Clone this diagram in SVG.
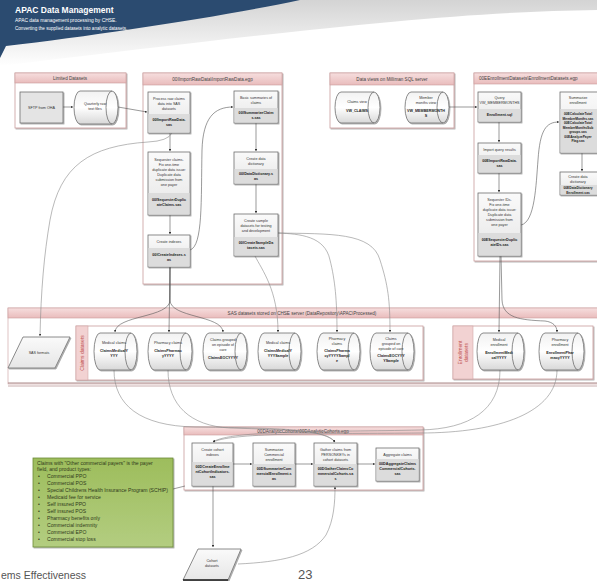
<svg xmlns="http://www.w3.org/2000/svg" width="597" height="581" viewBox="0 0 597 581">
<defs>
<linearGradient id="pink" x1="0" y1="0" x2="0" y2="1"><stop offset="0" stop-color="#f6dede"/><stop offset="1" stop-color="#e9bcbc"/></linearGradient>
<linearGradient id="ng" x1="0" y1="0" x2="0" y2="1"><stop offset="0" stop-color="#fafafa"/><stop offset="1" stop-color="#e6e6e6"/></linearGradient>
<linearGradient id="cyl" x1="0" y1="0" x2="0" y2="1"><stop offset="0" stop-color="#f2f2f2"/><stop offset="0.5" stop-color="#ffffff"/><stop offset="1" stop-color="#d8d8d8"/></linearGradient>
<linearGradient id="green" x1="0" y1="0" x2="0" y2="1"><stop offset="0" stop-color="#9dbd5c"/><stop offset="1" stop-color="#b3cd80"/></linearGradient>
<linearGradient id="swoosh" x1="0" y1="0" x2="0" y2="1"><stop offset="0" stop-color="#c9c9c9"/><stop offset="1" stop-color="#ffffff"/></linearGradient>
<filter id="sh" x="-10%" y="-10%" width="130%" height="130%"><feDropShadow dx="1" dy="1" stdDeviation="0.6" flood-color="#000" flood-opacity="0.35"/></filter>
<marker id="ar" viewBox="0 0 6 6" refX="5.5" refY="3" markerWidth="4" markerHeight="4" orient="auto"><path d="M0,0 L6,3 L0,6 Z" fill="#333"/></marker>
</defs>
<style>
text{font-family:"Liberation Sans","DejaVu Sans",sans-serif}
.frame{fill:#fff;stroke:#c99c9c;stroke-width:.8}
.head{fill:url(#pink);stroke:#c99c9c;stroke-width:.6}
.ht{font-size:4.6px;fill:#444;text-anchor:middle}
.node{fill:url(#ng);stroke:#6e6e6e;stroke-width:.8}
.low{fill:#dcdcdc}
.cy{fill:url(#cyl);stroke:#6e6e6e;stroke-width:.8}
.cap{fill:none;stroke:#6e6e6e;stroke-width:.8}
.nt{font-size:3.7px;fill:#333;text-anchor:middle}
.nb{font-size:3.7px;fill:#222;font-weight:bold;text-anchor:middle}
.ns{font-size:3.3px;fill:#222;font-weight:bold;text-anchor:middle}
.c{fill:none;stroke:#555;stroke-width:.6}
.ca{fill:none;stroke:#555;stroke-width:.6;marker-end:url(#ar)}
.cla{fill:none;stroke:#8a8a8a;stroke-width:.6;marker-end:url(#ar)}
.gt{font-size:5.1px;fill:#2f3a1a}
</style>
<rect x="0" y="0" width="597" height="581" fill="#fff"/>
<g id="header">
<path d="M0,0 H597 V10 C450,12 300,30 0,66 Z" fill="url(#swoosh)" opacity="0.8"/>
<path d="M0,0 H300 C230,15 100,35 6,46 L0,58 Z" fill="#2b4b70"/>
<text x="15" y="13" font-size="8.5" fill="#fff" font-weight="bold">APAC Data Management</text>
<text x="15" y="22" font-size="4.9" fill="#fff">APAC data management processing by CHSE.</text>
<text x="15" y="30" font-size="4.6" fill="#fff">Converting the supplied datasets into analytic datasets.</text>
</g>

<g id="grp-limited">
<rect class="frame" x="15" y="73" width="111" height="55" filter="url(#sh)"/>
<rect class="head" x="15" y="73" width="111" height="10"/>
<text class="ht" x="70" y="80">Limited Datasets</text>
</g>
<g id="grp-import">
<rect class="frame" x="143" y="73" width="139" height="211" filter="url(#sh)"/>
<rect class="head" x="143" y="73" width="139" height="12"/>
<text class="ht" x="212.5" y="81">00IImportRawData\ImportRawData.egp</text>
</g>
<g id="grp-views">
<rect class="frame" x="330" y="73" width="124" height="55" filter="url(#sh)"/>
<rect class="head" x="330" y="73" width="124" height="12"/>
<text class="ht" x="392" y="81">Data views on Milliman SQL server</text>
</g>
<g id="grp-enroll">
<rect class="frame" x="474" y="73" width="130" height="188" filter="url(#sh)"/>
<rect class="head" x="474" y="73" width="130" height="11"/>
<text class="ht" x="479" y="80" style="text-anchor:start">00EEnrollmentDatasets\EnrollmentDatasets.egp</text>
</g>
<g id="grp-sas">
<rect x="8" y="308" width="595" height="76" fill="#fff" stroke="#c99c9c" stroke-width=".6"/>
<rect class="head" x="8" y="308" width="595" height="10"/>
<text class="ht" x="302" y="315">SAS datasets stored on CHSE server (DataRepository\APAC\Processed)</text>
<line x1="8" y1="383" x2="597" y2="383" stroke="#a88" stroke-width="1"/>
<line x1="8" y1="386" x2="597" y2="386" stroke="#b99" stroke-width=".8"/>
</g>
<g id="grp-claims">
<rect class="frame" x="76" y="326" width="347" height="54" stroke="#b08080" filter="url(#sh)"/>
<rect x="76" y="326" width="12" height="54" fill="#f2d2d2" stroke="#c99c9c" stroke-width=".5"/>
<text transform="translate(84,353) rotate(-90)" font-size="5" fill="#c0504d" text-anchor="middle">Claims datasets</text>
</g>
<g id="grp-enrollds">
<rect class="frame" x="453" y="326" width="140" height="53" stroke="#b08080" filter="url(#sh)"/>
<rect x="453" y="326" width="20" height="53" fill="#f2d2d2" stroke="#c99c9c" stroke-width=".5"/>
<text transform="translate(462,352.5) rotate(-90)" font-size="5" fill="#c0504d" text-anchor="middle">Enrollment</text>
<text transform="translate(468,352.5) rotate(-90)" font-size="5" fill="#c0504d" text-anchor="middle">datasets</text>
</g>
<g id="grp-cohorts">
<rect class="frame" x="184" y="427" width="239" height="63" filter="url(#sh)"/>
<rect class="head" x="184" y="427" width="239" height="8"/>
<text class="ht" x="303" y="433">00DAnalyticCohorts\00DAnalyticCohorts.egp</text>
</g>

<g id="connectors">
<path class="ca" d="M63,107 L73,107"/>
<path class="ca" d="M118,107 L147,112"/>
<path class="ca" d="M170,133 L170,151"/>
<path class="ca" d="M170,215 L170,234"/>
<path class="ca" d="M190,250 C203,246 201,200 202,150 C203,118 214,107 233,107"/>
<path class="ca" d="M256,123 L256,151"/>
<path class="ca" d="M256,184 L256,213"/>
<path class="ca" d="M449,107 L477,107"/>
<path class="ca" d="M499,122 L499,142"/>
<path class="ca" d="M499,173 L499,192"/>
<path class="ca" d="M521,225 C535,222 536,185 538,160 C540,130 546,122 559,122"/>
<path class="ca" d="M582,153 L582,171"/>
<path class="ca" d="M233,464 L252,464"/>
<path class="ca" d="M295,464 L313,464"/>
<path class="ca" d="M357,464 L375,464"/>
<path class="ca" d="M213,486 L213,547"/>
<path class="cla" d="M238,564 C280,562 312,556 326,535 C334,520 335,502 335,487"/>
<path class="cla" d="M172,133 Q168,141 148,142 C90,146 60,165 50,220 C44,255 41,290 40,336"/>
<path class="ca" d="M170,267 L170,300 C170,318 116,315 115,332"/>
<path class="ca" d="M170,267 L169,332"/>
<path class="ca" d="M170,267 L170,300 C170,318 222,315 223,332"/>
<path class="cla" d="M255,256 C262,270 278,290 278,332"/>
<path class="cla" d="M278,233 C300,234 325,236 330,260 C335,280 337,300 337,332"/>
<path class="cla" d="M278,233 C330,234 372,232 380,260 C388,285 390,300 390,332"/>
<path class="ca" d="M500,256 L499,332"/>
<path class="ca" d="M501,256 L502,300 C503,318 520,320 545,321 C553,322 557,326 557,332"/>
<path class="cla" d="M114,370 C114,405 140,426 195,427 C270,428 325,428 335,442"/>
<path class="cla" d="M168,370 C168,405 190,426 230,428 C290,430 325,430 335,442"/>
<path class="cla" d="M500,370 C500,410 470,429 420,430 C330,432 230,430 213,442"/>
<path class="cla" d="M557,370 C557,412 500,433 420,433 C330,434 235,432 213,442"/>
<path class="c" d="M173,489 L185,486"/>
</g>

<g id="n-sftp">
<rect x="20" y="92" width="43" height="31" fill="#e4e4e4" stroke="#6e6e6e" stroke-width=".8" filter="url(#sh)"/>
<text class="nt" x="41.5" y="109">SFTP from OHA</text>
</g>
<g id="n-rawfiles">
<path class="cy" d="M80,91 H112 A6,16.5 0 0 1 112,124 H80 A6,16.5 0 0 1 80,91 Z" filter="url(#sh)"/>
<path class="cap" d="M112,91 A6,16.5 0 0 0 112,124"/>
<text class="nt" x="95" y="105">Quarterly raw</text>
<text class="nt" x="95" y="110">text files</text>
</g>
<g id="n-importraw">
<rect class="node" x="148" y="92" width="42" height="41" filter="url(#sh)"/>
<rect class="low" x="148.4" y="114" width="41.2" height="18.6"/>
<text class="nt" x="169" y="100">Process raw claims</text>
<text class="nt" x="169" y="105">data into SAS</text>
<text class="nt" x="169" y="110">datasets</text>
<text class="nb" x="169" y="121">00IImportRawData.</text>
<text class="nb" x="169" y="126">sas</text>
</g>
<g id="n-sequester">
<rect class="node" x="148" y="152" width="42" height="63" filter="url(#sh)"/>
<rect class="low" x="148.4" y="193" width="41.2" height="21.6"/>
<text class="nt" x="169" y="161">Sequester claims.</text>
<text class="nt" x="169" y="166">Fix one-time</text>
<text class="nt" x="169" y="171">duplicate data issue:</text>
<text class="nt" x="169" y="176">Duplicate data</text>
<text class="nt" x="169" y="181">submission from</text>
<text class="nt" x="169" y="186">one payer</text>
<text class="nb" x="169" y="201">00ISequesterDuplic</text>
<text class="nb" x="169" y="206">ateClaims.sas</text>
</g>
<g id="n-indexes">
<rect class="node" x="148" y="235" width="42" height="32" filter="url(#sh)"/>
<rect class="low" x="148.4" y="248" width="41.2" height="18.6"/>
<text class="nt" x="169" y="243">Create indexes</text>
<text class="nb" x="169" y="256">00ICreateIndexes.s</text>
<text class="nb" x="169" y="261">as</text>
</g>
<g id="n-summarize">
<rect class="node" x="234" y="91" width="44" height="32" filter="url(#sh)"/>
<rect class="low" x="234.4" y="108" width="43.2" height="14.6"/>
<text class="nt" x="256" y="99">Basic summaries of</text>
<text class="nt" x="256" y="104">claims</text>
<text class="nb" x="256" y="114">00ISummarizeClaim</text>
<text class="nb" x="256" y="119">s.sas</text>
</g>
<g id="n-dict">
<rect class="node" x="234" y="152" width="44" height="32" filter="url(#sh)"/>
<rect class="low" x="234.4" y="169" width="43.2" height="14.6"/>
<text class="nt" x="256" y="160">Create data</text>
<text class="nt" x="256" y="165">dictionary</text>
<text class="nb" x="256" y="175">00IDataDictionary.s</text>
<text class="nb" x="256" y="180">as</text>
</g>
<g id="n-sample">
<rect class="node" x="234" y="214" width="44" height="42" filter="url(#sh)"/>
<rect class="low" x="234.4" y="237" width="43.2" height="18.6"/>
<text class="nt" x="256" y="222">Create sample</text>
<text class="nt" x="256" y="227">datasets for testing</text>
<text class="nt" x="256" y="232">and development</text>
<text class="nb" x="256" y="244">00ICreateSampleDa</text>
<text class="nb" x="256" y="249">tasets.sas</text>
</g>
<g id="n-claimsview">
<path class="cy" d="M341,92 H374 A6,15.5 0 0 1 374,123 H341 A6,15.5 0 0 1 341,92 Z" filter="url(#sh)"/>
<path class="cap" d="M374,92 A6,15.5 0 0 0 374,123"/>
<text class="nt" x="357" y="103">Claims view</text>
<text class="nb" x="357" y="112">VW_CLAIMS</text>
</g>
<g id="n-mmview">
<path class="cy" d="M411,92 H443 A6,15.5 0 0 1 443,123 H411 A6,15.5 0 0 1 411,92 Z" filter="url(#sh)"/>
<path class="cap" d="M443,92 A6,15.5 0 0 0 443,123"/>
<text class="nt" x="426" y="99">Member</text>
<text class="nt" x="426" y="104">months view</text>
<text class="nb" x="426" y="112">VW_MEMBERMONTH</text>
<text class="nb" x="426" y="117">S</text>
</g>
<g id="n-query">
<rect class="node" x="478" y="92" width="43" height="30" filter="url(#sh)"/>
<rect class="low" x="478.4" y="109" width="42.2" height="12.6"/>
<text class="nt" x="499.5" y="99">Query</text>
<text class="nt" x="499.5" y="104">VW_MEMBERMONTHS</text>
<text class="nb" x="499.5" y="116">Enrollment.sql</text>
</g>
<g id="n-eimport">
<rect class="node" x="478" y="143" width="43" height="30" filter="url(#sh)"/>
<rect class="low" x="478.4" y="155" width="42.2" height="17.6"/>
<text class="nt" x="499.5" y="151">Import query results</text>
<text class="nb" x="499.5" y="162">00EImportRawData.</text>
<text class="nb" x="499.5" y="167">sas</text>
</g>
<g id="n-eseq">
<rect class="node" x="478" y="193" width="43" height="63" filter="url(#sh)"/>
<rect class="low" x="478.4" y="233" width="42.2" height="22.6"/>
<text class="nt" x="499.5" y="201">Sequester IDs.</text>
<text class="nt" x="499.5" y="206">Fix one-time</text>
<text class="nt" x="499.5" y="211">duplicate data issue:</text>
<text class="nt" x="499.5" y="216">Duplicate data</text>
<text class="nt" x="499.5" y="221">submission from</text>
<text class="nt" x="499.5" y="226">one payer</text>
<text class="nb" x="499.5" y="241">00ESequesterDuplic</text>
<text class="nb" x="499.5" y="246">ateIDs.sas</text>
</g>
<g id="n-esumm">
<rect class="node" x="560" y="92" width="45" height="61" filter="url(#sh)"/>
<rect class="low" x="560.4" y="109" width="44.2" height="43.6"/>
<text class="nt" x="578" y="99">Summarize</text>
<text class="nt" x="578" y="104">enrollment</text>
<text class="ns" x="578" y="115">00ECalculateTotal</text>
<text class="ns" x="578" y="119.5">MemberMonths.sas</text>
<text class="ns" x="578" y="124">00ECalculateTotal</text>
<text class="ns" x="578" y="128.5">MemberMonthsSub</text>
<text class="ns" x="578" y="133">groups.sas</text>
<text class="ns" x="578" y="137.5">00EAnalyzePayer</text>
<text class="ns" x="578" y="142">Flag.sas</text>
</g>
<g id="n-edict">
<rect class="node" x="560" y="172" width="45" height="23" filter="url(#sh)"/>
<rect class="low" x="560.4" y="185" width="44.2" height="9.6"/>
<text class="nt" x="578" y="178">Create data</text>
<text class="nt" x="578" y="183">dictionary</text>
<text class="ns" x="578" y="189">00EDataDictionary</text>
<text class="ns" x="578" y="193.5">Enrollment.sas</text>
</g>
<g id="n-formats">
<path d="M23,337 L70,337 L55,368 L8,368 Z" fill="url(#ng)" stroke="#6e6e6e" stroke-width=".8" filter="url(#sh)"/>
<text class="nt" x="39" y="354">SAS formats</text>
</g>
<g id="n-cmed">
<path class="cy" d="M100,333 H131 A6,18.5 0 0 1 131,370 H100 A6,18.5 0 0 1 100,333 Z" filter="url(#sh)"/>
<path class="cap" d="M131,333 A6,18.5 0 0 0 131,370"/>
<text class="nt" x="114" y="344">Medical claims</text>
<text class="nb" x="114" y="352">ClaimsMedicalY</text>
<text class="nb" x="114" y="357">YYY</text>
</g>
<g id="n-cph">
<path class="cy" d="M154,333 H186 A6,18.5 0 0 1 186,370 H154 A6,18.5 0 0 1 154,333 Z" filter="url(#sh)"/>
<path class="cap" d="M186,333 A6,18.5 0 0 0 186,370"/>
<text class="nt" x="168" y="344">Pharmacy claims</text>
<text class="nb" x="168" y="352">ClaimsPharmac</text>
<text class="nb" x="168" y="357">yYYYY</text>
</g>
<g id="n-ceoc">
<path class="cy" d="M209,333 H241 A6,18.5 0 0 1 241,370 H209 A6,18.5 0 0 1 209,333 Z" filter="url(#sh)"/>
<path class="cap" d="M241,333 A6,18.5 0 0 0 241,370"/>
<text class="nt" x="223" y="341">Claims grouped</text>
<text class="nt" x="223" y="346">on episode of</text>
<text class="nt" x="223" y="351">care</text>
<text class="nb" x="223" y="359">ClaimsEOCYYYY</text>
</g>
<g id="n-cmeds">
<path class="cy" d="M264,333 H295 A6,18.5 0 0 1 295,370 H264 A6,18.5 0 0 1 264,333 Z" filter="url(#sh)"/>
<path class="cap" d="M295,333 A6,18.5 0 0 0 295,370"/>
<text class="nt" x="278" y="344">Medical claims</text>
<text class="nb" x="278" y="352">ClaimsMedicalY</text>
<text class="nb" x="278" y="357">YYYSample</text>
</g>
<g id="n-cphs">
<path class="cy" d="M323,333 H354 A6,18.5 0 0 1 354,370 H323 A6,18.5 0 0 1 323,333 Z" filter="url(#sh)"/>
<path class="cap" d="M354,333 A6,18.5 0 0 0 354,370"/>
<text class="nt" x="337" y="340">Pharmacy</text>
<text class="nt" x="337" y="345">claims</text>
<text class="nb" x="337" y="352">ClaimsPharma</text>
<text class="nb" x="337" y="357">cyYYYYSampl</text>
<text class="nb" x="337" y="362">e</text>
</g>
<g id="n-ceocs">
<path class="cy" d="M376,333 H408 A6,18.5 0 0 1 408,370 H376 A6,18.5 0 0 1 376,333 Z" filter="url(#sh)"/>
<path class="cap" d="M408,333 A6,18.5 0 0 0 408,370"/>
<text class="nt" x="391" y="340">Claims</text>
<text class="nt" x="391" y="345">grouped on</text>
<text class="nt" x="391" y="350">episode of care</text>
<text class="nb" x="391" y="357">ClaimsEOCYYY</text>
<text class="nb" x="391" y="362">YSample</text>
</g>
<g id="n-emed">
<path class="cy" d="M483,333 H518 A6,18.5 0 0 1 518,370 H483 A6,18.5 0 0 1 483,333 Z" filter="url(#sh)"/>
<path class="cap" d="M518,333 A6,18.5 0 0 0 518,370"/>
<text class="nt" x="499" y="341">Medical</text>
<text class="nt" x="499" y="346">enrollment</text>
<text class="nb" x="499" y="354">EnrollmentMedi</text>
<text class="nb" x="499" y="359">calYYYY</text>
</g>
<g id="n-eph">
<path class="cy" d="M545,333 H578 A6,18.5 0 0 1 578,370 H545 A6,18.5 0 0 1 545,333 Z" filter="url(#sh)"/>
<path class="cap" d="M578,333 A6,18.5 0 0 0 578,370"/>
<text class="nt" x="560" y="341">Pharmacy</text>
<text class="nt" x="560" y="346">enrollment</text>
<text class="nb" x="560" y="354">EnrollmentPhar</text>
<text class="nb" x="560" y="359">macyYYYY</text>
</g>
<g id="n-cohortidx">
<rect class="node" x="192" y="443" width="41" height="43" filter="url(#sh)"/>
<rect class="low" x="192.4" y="462" width="40.2" height="23.6"/>
<text class="nt" x="212.5" y="451">Create cohort</text>
<text class="nt" x="212.5" y="456">indexes</text>
<text class="nb" x="212.5" y="468">00DCreateEnrollme</text>
<text class="nb" x="212.5" y="473">ntCohortIndicators.</text>
<text class="nb" x="212.5" y="478">sas</text>
</g>
<g id="n-summcomm">
<rect class="node" x="253" y="443" width="42" height="43" filter="url(#sh)"/>
<rect class="low" x="253.4" y="464" width="41.2" height="21.6"/>
<text class="nt" x="274" y="451">Summarize</text>
<text class="nt" x="274" y="456">Commercial</text>
<text class="nt" x="274" y="461">enrollment</text>
<text class="nb" x="274" y="470">00DSummarizeCom</text>
<text class="nb" x="274" y="475">mercialEnrollment.s</text>
<text class="nb" x="274" y="480">as</text>
</g>
<g id="n-gather">
<rect class="node" x="314" y="443" width="43" height="43" filter="url(#sh)"/>
<rect class="low" x="314.4" y="464" width="42.2" height="21.6"/>
<text class="nt" x="335.5" y="451">Gather claims from</text>
<text class="nt" x="335.5" y="456">PERSONKEYs in</text>
<text class="nt" x="335.5" y="461">cohort datasets</text>
<text class="nb" x="335.5" y="470">00DGatherClaimsCo</text>
<text class="nb" x="335.5" y="475">mmercialCohorts.sa</text>
<text class="nb" x="335.5" y="480">s</text>
</g>
<g id="n-aggregate">
<rect class="node" x="376" y="448" width="43" height="33" filter="url(#sh)"/>
<rect class="low" x="376.4" y="459" width="42.2" height="21.6"/>
<text class="nt" x="397.5" y="456">Aggregate claims</text>
<text class="nb" x="397.5" y="465">00DAggregateClaims</text>
<text class="nb" x="397.5" y="470">CommercialCohorts.</text>
<text class="nb" x="397.5" y="475">sas</text>
</g>
<g id="n-cohortds">
<path d="M198,549 L241,549 L228,580 L183,580 Z" fill="url(#ng)" stroke="#6e6e6e" stroke-width=".8" filter="url(#sh)"/>
<line x1="183" y1="580" x2="228" y2="580" stroke="#222" stroke-width="1.5"/>
<text class="nt" x="212" y="562">Cohort</text>
<text class="nt" x="212" y="567">datasets</text>
</g>
<g id="note">
<rect x="33" y="458" width="140" height="89" fill="url(#green)" stroke="#6b8a38" stroke-width=".8" filter="url(#sh)"/>
<text class="gt" x="37" y="465">Claims with "Other commercial payers" is the payer</text>
<text class="gt" x="37" y="471">field, and product types:</text>
<text class="gt" x="38" y="478">•</text><text class="gt" x="47" y="478">Commercial PPO</text>
<text class="gt" x="38" y="485">•</text><text class="gt" x="47" y="485">Commercial POS</text>
<text class="gt" x="38" y="492">•</text><text class="gt" x="47" y="492">Special Childrens Health Insurance Program (SCHIP)</text>
<text class="gt" x="38" y="499">•</text><text class="gt" x="47" y="499">Medicaid fee for service</text>
<text class="gt" x="38" y="506">•</text><text class="gt" x="47" y="506">Self insured PPO</text>
<text class="gt" x="38" y="513">•</text><text class="gt" x="47" y="513">Self insured POS</text>
<text class="gt" x="38" y="520">•</text><text class="gt" x="47" y="520">Pharmacy benefits only</text>
<text class="gt" x="38" y="527">•</text><text class="gt" x="47" y="527">Commercial indemnity</text>
<text class="gt" x="38" y="534">•</text><text class="gt" x="47" y="534">Commercial EPO</text>
<text class="gt" x="38" y="541">•</text><text class="gt" x="47" y="541">Commercial stop loss</text>
</g>

<g id="footer">
<text x="1" y="579" font-size="10.5" fill="#555">ems Effectiveness</text>
<text x="298" y="579" font-size="13" fill="#555">23</text>
</g>
</svg>
